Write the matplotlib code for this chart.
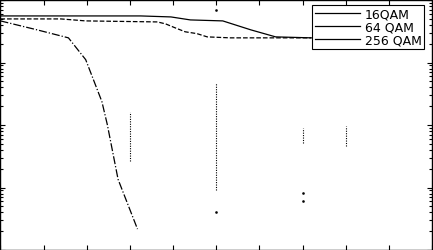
import matplotlib
matplotlib.use('Agg')
import matplotlib.pyplot as plt
from matplotlib.lines import Line2D

plt.rcParams['font.family'] = ['DejaVu Sans']

# SNR (dB) and BER
snr_16 = [0, 1.7, 3.15, 3.95, 4.7, 4.95, 5.45, 6.35]
ber_16 = [0.463, 0.333, 0.248, 0.111, 0.0237, 0.0102, 0.00135, 0.000216]

snr_64 = [0, 2.8, 3.95, 7.27, 7.65, 8.1, 8.56, 9.1, 9.58, 10.65, 14.4]
ber_64 = [0.498, 0.498, 0.463, 0.446, 0.415, 0.358, 0.31, 0.29, 0.257, 0.248, 0.248]

snr_256 = [0, 6.5, 7.9, 8.8, 10.3, 11.6, 12.75, 14.4]
ber_256 = [0.556, 0.556, 0.536, 0.48, 0.463, 0.333, 0.257, 0.248]

# dotted vertical spreads
spread_x = [6, 10, 14, 16]
spread_lo = [0.00262, 0.0009, 0.00507, 0.00454]
spread_hi = [0.0164, 0.0475, 0.0091, 0.0098]
dot_x = [10, 14, 14, 10]
dot_y = [0.000403, 0.00081, 0.0006, 0.693]

labels = ['16QAM', '64 QAM', '256 QAM']

fig = plt.figure(figsize=(4.33, 2.51), dpi=100)
ax = fig.add_axes([0.001, 0.0, 0.997, 0.996])

ax.semilogy(snr_16, ber_16, color='black', lw=0.9, linestyle='-.')
ax.semilogy(snr_64, ber_64, color='black', lw=0.9, linestyle='--')
ax.semilogy(snr_256, ber_256, color='black', lw=0.9, linestyle='-')
ax.vlines(spread_x, spread_lo, spread_hi, color='black', lw=0.8, linestyles=(0, (1, 1.2)))
ax.plot(dot_x, dot_y, linestyle='none', marker='s', ms=0.8, color='black')

ax.set_xlim(0, 20)
ax.set_ylim(1e-4, 1e0)
ax.set_xticks(range(0, 21, 2))
ax.tick_params(which='both', direction='in', top=True, right=True,
               labelbottom=False, labelleft=False)
ax.tick_params(which='major', length=3.6, width=0.8)
ax.tick_params(which='minor', length=2.2, width=0.8)
for s in ax.spines.values():
    s.set_linewidth(1.0)

handles = [Line2D([], [], color='black', lw=0.9) for _ in labels]
leg = ax.legend(handles, labels, loc='upper right',
                bbox_to_anchor=(425 / 433, 1 - 5 / 251), fontsize=9,
                frameon=True, fancybox=False, edgecolor='black', framealpha=1,
                borderaxespad=0.0, handlelength=3.6, handletextpad=0.4,
                labelspacing=0.0, borderpad=0.22)
leg.get_frame().set_linewidth(0.8)

fig.savefig('out.png', dpi=100)
